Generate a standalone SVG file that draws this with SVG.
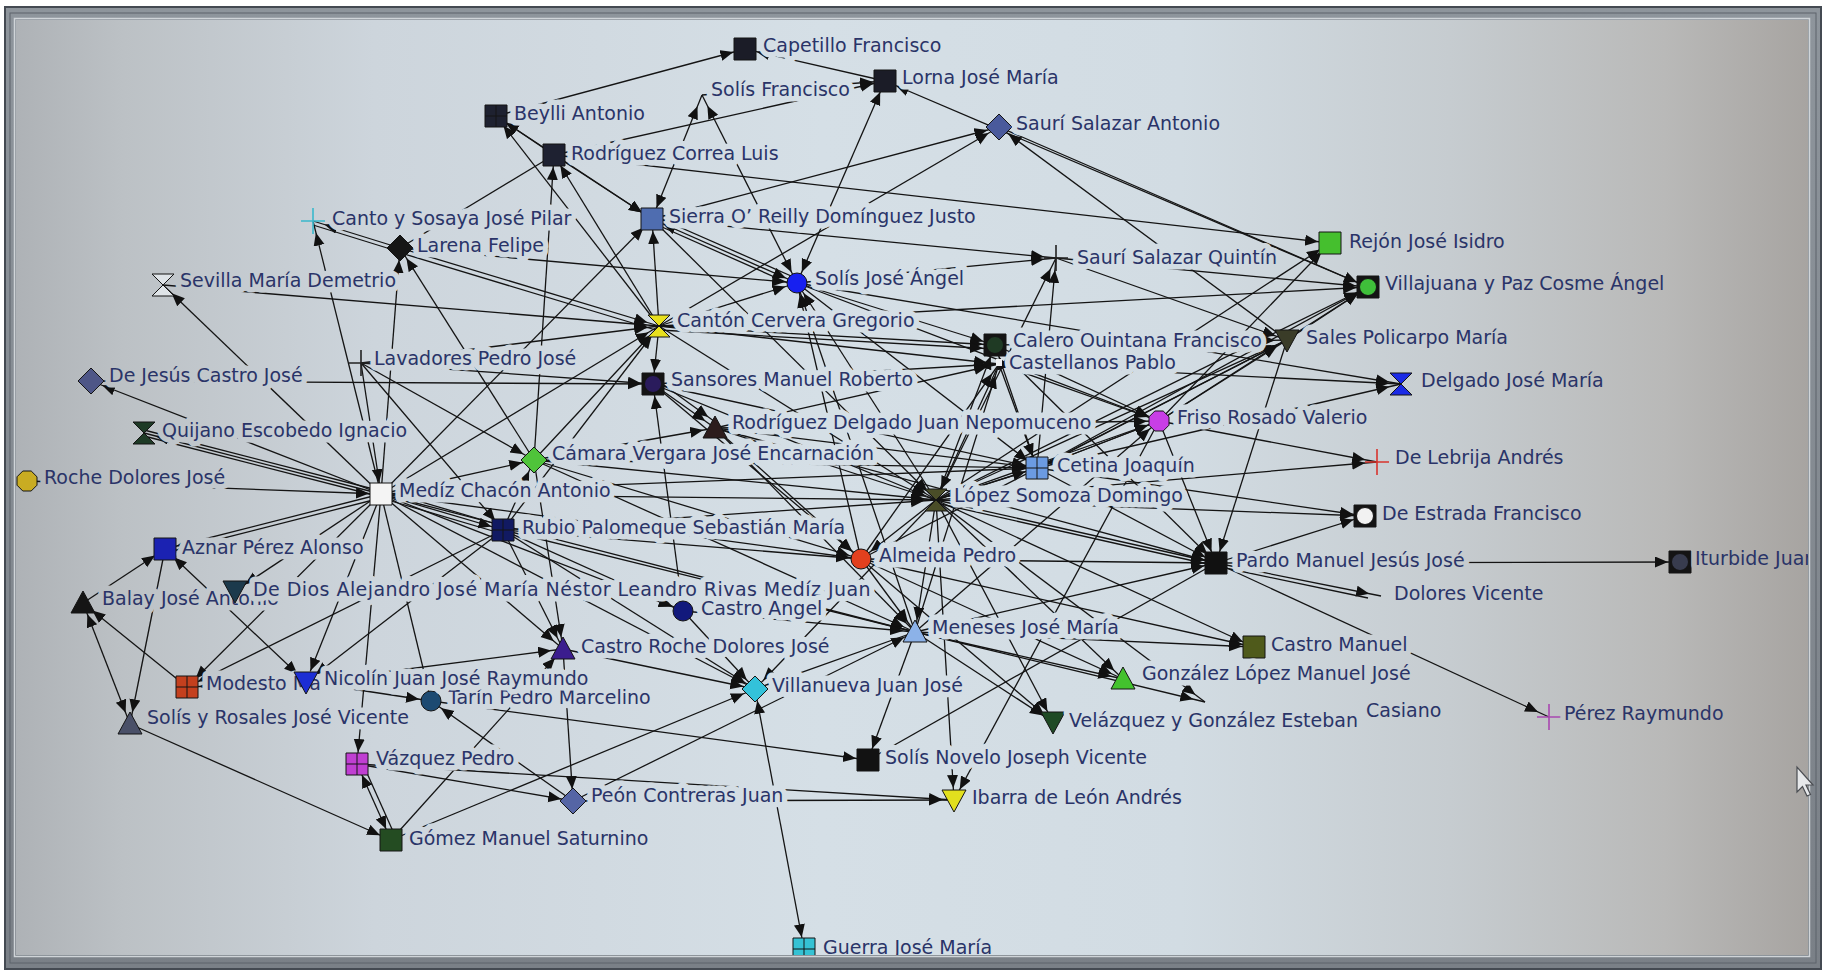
<svg xmlns="http://www.w3.org/2000/svg" width="1825" height="971" viewBox="0 0 1825 971">
<defs>
<linearGradient id="scr" gradientUnits="userSpaceOnUse" x1="16" y1="0" x2="1808" y2="0">
<stop offset="0" stop-color="#aeb2b6"/><stop offset="0.06" stop-color="#bcc1c5"/><stop offset="0.2" stop-color="#cdd5dc"/><stop offset="0.45" stop-color="#d5dfe6"/><stop offset="0.65" stop-color="#d2dce3"/><stop offset="0.8" stop-color="#c6ccd0"/><stop offset="0.92" stop-color="#b9b9b8"/><stop offset="1" stop-color="#a7a4a1"/>
</linearGradient>
<linearGradient id="frm" x1="0" y1="0" x2="0" y2="1">
<stop offset="0" stop-color="#8e959c"/><stop offset="1" stop-color="#7a8087"/>
</linearGradient>
<marker id="ah" markerUnits="userSpaceOnUse" markerWidth="32" markerHeight="12" refX="25" refY="5.5" orient="auto-start-reverse"><path d="M0,0L13,5.5L0,11Z" fill="#111"/></marker>
<path id="sq" d="M-11,-11H11V11H-11Z"/>
<g id="gr"><path d="M-11,-11H11V11H-11Z"/><path d="M0,-11V11M-11,0H11" fill="none"/></g>
<g id="cs"><path d="M-11,-11H11V11H-11Z" fill="#141414"/><circle r="8.5"/></g>
<path id="di" d="M0,-13L13,0L0,13L-13,0Z"/>
<path id="tu" d="M0,-12L12,10H-12Z"/>
<path id="td" d="M-12,-10H12L0,12Z"/>
<path id="hg" d="M-11,-11H11L-11,11H11Z"/>
<circle id="ci" r="10"/>
<path id="oc" d="M-4.2,-10H4.2L10,-4.2V4.2L4.2,10H-4.2L-10,4.2V-4.2Z"/>
<path id="pl" d="M-12,0H12M0,-13V13"/>
</defs>
<style>
.e,.m,.n{stroke:#141414;stroke-width:1.3;fill:none}
.e{marker-end:url(#ah)}
.m{marker-start:url(#ah);marker-end:url(#ah)}
.nd text{font-family:"DejaVu Sans","Liberation Sans",sans-serif;font-size:19px;fill:#2a3468;stroke:url(#scr);stroke-width:11;stroke-linejoin:round;paint-order:stroke}
.nd use{stroke:#141414;stroke-width:1}
.nd use.pl{fill:none;stroke-width:1.6}
</style>
<rect width="1825" height="971" fill="#ffffff"/>
<rect x="16" y="20" width="1792" height="935" fill="url(#scr)"/>
<g id="connectors">
<line class="e" x1="496" y1="116" x2="745" y2="49"/>
<line class="e" x1="554" y1="155" x2="496" y2="116"/>
<line class="e" x1="659" y1="326" x2="496" y2="116"/>
<line class="e" x1="554" y1="155" x2="885" y2="81"/>
<line class="e" x1="702" y1="95" x2="885" y2="81"/>
<line class="e" x1="885" y1="81" x2="745" y2="49"/>
<line class="m" x1="797" y1="283" x2="885" y2="81"/>
<line class="e" x1="1368" y1="287" x2="885" y2="81"/>
<line class="e" x1="652" y1="219" x2="999" y2="127"/>
<line class="e" x1="659" y1="326" x2="999" y2="127"/>
<line class="e" x1="1287" y1="340" x2="999" y2="127"/>
<line class="e" x1="999" y1="127" x2="1368" y2="287"/>
<line class="m" x1="652" y1="219" x2="702" y2="95"/>
<line class="m" x1="797" y1="283" x2="702" y2="95"/>
<line class="e" x1="554" y1="155" x2="652" y2="219"/>
<line class="e" x1="534" y1="460" x2="554" y2="155"/>
<line class="e" x1="659" y1="326" x2="554" y2="155"/>
<line class="e" x1="554" y1="155" x2="1330" y2="243"/>
<line class="e" x1="496" y1="116" x2="652" y2="219"/>
<line class="e" x1="381" y1="494" x2="652" y2="219"/>
<line class="e" x1="659" y1="326" x2="652" y2="219"/>
<line class="e" x1="659" y1="326" x2="653" y2="384"/>
<line class="m" x1="652" y1="219" x2="797" y2="283"/>
<line class="n" x1="653" y1="223" x2="797" y2="287"/>
<line class="n" x1="652" y1="215" x2="798" y2="279"/>
<line class="e" x1="652" y1="219" x2="1056" y2="258"/>
<line class="e" x1="797" y1="283" x2="1056" y2="258"/>
<line class="e" x1="400" y1="248" x2="797" y2="283"/>
<line class="e" x1="659" y1="326" x2="797" y2="283"/>
<line class="e" x1="861" y1="559" x2="797" y2="283"/>
<line class="e" x1="915" y1="632" x2="797" y2="283"/>
<line class="e" x1="936" y1="500" x2="797" y2="283"/>
<line class="e" x1="797" y1="283" x2="995" y2="345"/>
<line class="e" x1="797" y1="283" x2="1401" y2="384"/>
<line class="e" x1="797" y1="283" x2="1037" y2="468"/>
<line class="e" x1="797" y1="283" x2="1159" y2="421"/>
<line class="e" x1="936" y1="500" x2="1056" y2="258"/>
<line class="e" x1="1037" y1="468" x2="1056" y2="258"/>
<line class="e" x1="1056" y1="258" x2="1368" y2="287"/>
<line class="e" x1="1056" y1="258" x2="1287" y2="340"/>
<line class="e" x1="936" y1="500" x2="1330" y2="243"/>
<line class="e" x1="1159" y1="421" x2="1330" y2="243"/>
<line class="e" x1="659" y1="326" x2="1368" y2="287"/>
<line class="e" x1="1287" y1="340" x2="1368" y2="287"/>
<line class="e" x1="1037" y1="468" x2="1368" y2="287"/>
<line class="e" x1="936" y1="500" x2="1368" y2="287"/>
<line class="e" x1="1159" y1="421" x2="1368" y2="287"/>
<line class="e" x1="1287" y1="340" x2="1216" y2="563"/>
<line class="e" x1="999" y1="364" x2="1401" y2="384"/>
<line class="e" x1="1037" y1="468" x2="1401" y2="384"/>
<line class="e" x1="1159" y1="421" x2="1377" y2="462"/>
<line class="e" x1="936" y1="500" x2="1377" y2="462"/>
<line class="e" x1="1037" y1="468" x2="1365" y2="516"/>
<line class="e" x1="936" y1="500" x2="1365" y2="516"/>
<line class="e" x1="1216" y1="563" x2="1365" y2="516"/>
<line class="e" x1="1216" y1="563" x2="1680" y2="562"/>
<line class="e" x1="1216" y1="563" x2="1381" y2="596"/>
<line class="n" x1="1216" y1="566" x2="1368" y2="598"/>
<line class="e" x1="1216" y1="563" x2="1549" y2="717"/>
<line class="e" x1="936" y1="500" x2="1216" y2="563"/>
<line class="n" x1="936" y1="503" x2="1216" y2="566"/>
<line class="e" x1="1037" y1="468" x2="1216" y2="563"/>
<line class="e" x1="861" y1="559" x2="1216" y2="563"/>
<line class="e" x1="915" y1="632" x2="1216" y2="563"/>
<line class="e" x1="1159" y1="421" x2="1216" y2="563"/>
<line class="e" x1="995" y1="345" x2="1216" y2="563"/>
<line class="e" x1="715" y1="428" x2="1216" y2="563"/>
<line class="e" x1="915" y1="632" x2="1254" y2="647"/>
<line class="e" x1="861" y1="559" x2="1254" y2="647"/>
<line class="e" x1="936" y1="500" x2="1254" y2="647"/>
<line class="e" x1="915" y1="632" x2="1123" y2="679"/>
<line class="e" x1="861" y1="559" x2="1123" y2="679"/>
<line class="e" x1="936" y1="500" x2="1123" y2="679"/>
<line class="e" x1="861" y1="559" x2="1053" y2="722"/>
<line class="e" x1="915" y1="632" x2="1053" y2="722"/>
<line class="e" x1="936" y1="500" x2="1053" y2="722"/>
<line class="e" x1="915" y1="632" x2="1205" y2="702"/>
<line class="e" x1="936" y1="500" x2="1205" y2="702"/>
<line class="e" x1="400" y1="248" x2="313" y2="221"/>
<line class="n" x1="400" y1="252" x2="313" y2="225"/>
<line class="e" x1="381" y1="494" x2="313" y2="221"/>
<line class="e" x1="381" y1="494" x2="400" y2="248"/>
<line class="e" x1="534" y1="460" x2="400" y2="248"/>
<line class="e" x1="400" y1="248" x2="659" y2="326"/>
<line class="e" x1="401" y1="253" x2="659" y2="331"/>
<line class="n" x1="400" y1="248" x2="554" y2="155"/>
<line class="e" x1="381" y1="494" x2="163" y2="285"/>
<line class="e" x1="163" y1="285" x2="659" y2="326"/>
<line class="e" x1="361" y1="363" x2="659" y2="326"/>
<line class="e" x1="534" y1="460" x2="659" y2="326"/>
<line class="e" x1="381" y1="494" x2="659" y2="326"/>
<line class="e" x1="503" y1="530" x2="659" y2="326"/>
<line class="e" x1="659" y1="326" x2="995" y2="345"/>
<line class="e" x1="659" y1="330" x2="995" y2="349"/>
<line class="e" x1="659" y1="326" x2="999" y2="364"/>
<line class="e" x1="653" y1="384" x2="999" y2="364"/>
<line class="e" x1="861" y1="559" x2="999" y2="364"/>
<line class="e" x1="936" y1="500" x2="995" y2="345"/>
<line class="e" x1="915" y1="632" x2="999" y2="364"/>
<line class="e" x1="715" y1="428" x2="999" y2="364"/>
<line class="e" x1="1037" y1="468" x2="995" y2="345"/>
<line class="e" x1="995" y1="345" x2="1287" y2="340"/>
<line class="e" x1="361" y1="363" x2="653" y2="384"/>
<line class="e" x1="91" y1="381" x2="653" y2="384"/>
<line class="e" x1="653" y1="384" x2="715" y2="428"/>
<line class="e" x1="657" y1="380" x2="718" y2="424"/>
<line class="e" x1="683" y1="611" x2="653" y2="384"/>
<line class="e" x1="715" y1="428" x2="1159" y2="421"/>
<line class="e" x1="381" y1="494" x2="144" y2="433"/>
<line class="n" x1="381" y1="497" x2="144" y2="436"/>
<line class="n" x1="381" y1="491" x2="144" y2="430"/>
<line class="e" x1="27" y1="481" x2="381" y2="494"/>
<line class="e" x1="381" y1="494" x2="91" y2="381"/>
<line class="e" x1="381" y1="494" x2="165" y2="549"/>
<line class="e" x1="381" y1="498" x2="165" y2="553"/>
<line class="e" x1="381" y1="494" x2="235" y2="591"/>
<line class="e" x1="381" y1="494" x2="187" y2="687"/>
<line class="e" x1="381" y1="494" x2="306" y2="682"/>
<line class="e" x1="381" y1="494" x2="357" y2="764"/>
<line class="e" x1="381" y1="494" x2="431" y2="701"/>
<line class="e" x1="381" y1="494" x2="503" y2="530"/>
<line class="n" x1="381" y1="498" x2="503" y2="534"/>
<line class="n" x1="381" y1="490" x2="503" y2="526"/>
<line class="e" x1="381" y1="494" x2="534" y2="460"/>
<line class="e" x1="381" y1="494" x2="563" y2="649"/>
<line class="e" x1="381" y1="494" x2="755" y2="689"/>
<line class="e" x1="381" y1="494" x2="936" y2="500"/>
<line class="e" x1="381" y1="494" x2="861" y2="559"/>
<line class="e" x1="381" y1="494" x2="1037" y2="468"/>
<line class="e" x1="381" y1="494" x2="683" y2="611"/>
<line class="e" x1="381" y1="494" x2="915" y2="632"/>
<line class="e" x1="361" y1="363" x2="534" y2="460"/>
<line class="e" x1="361" y1="363" x2="381" y2="494"/>
<line class="e" x1="361" y1="363" x2="503" y2="530"/>
<line class="e" x1="503" y1="530" x2="534" y2="460"/>
<line class="e" x1="534" y1="460" x2="715" y2="428"/>
<line class="e" x1="534" y1="460" x2="936" y2="500"/>
<line class="e" x1="534" y1="460" x2="1037" y2="468"/>
<line class="e" x1="503" y1="530" x2="563" y2="649"/>
<line class="e" x1="503" y1="530" x2="683" y2="611"/>
<line class="e" x1="503" y1="530" x2="755" y2="689"/>
<line class="e" x1="503" y1="530" x2="915" y2="632"/>
<line class="e" x1="503" y1="530" x2="936" y2="500"/>
<line class="e" x1="503" y1="530" x2="861" y2="559"/>
<line class="e" x1="503" y1="530" x2="306" y2="682"/>
<line class="e" x1="503" y1="530" x2="187" y2="687"/>
<line class="e" x1="83" y1="603" x2="165" y2="549"/>
<line class="e" x1="165" y1="549" x2="130" y2="724"/>
<line class="m" x1="83" y1="603" x2="130" y2="724"/>
<line class="e" x1="187" y1="687" x2="83" y2="603"/>
<line class="m" x1="165" y1="549" x2="306" y2="682"/>
<line class="e" x1="306" y1="682" x2="187" y2="687"/>
<line class="e" x1="130" y1="724" x2="391" y2="840"/>
<line class="m" x1="391" y1="840" x2="357" y2="764"/>
<line class="n" x1="396" y1="838" x2="362" y2="762"/>
<line class="e" x1="391" y1="840" x2="563" y2="649"/>
<line class="e" x1="391" y1="840" x2="755" y2="689"/>
<line class="e" x1="357" y1="764" x2="573" y2="801"/>
<line class="e" x1="357" y1="764" x2="954" y2="800"/>
<line class="e" x1="573" y1="801" x2="954" y2="800"/>
<line class="e" x1="573" y1="801" x2="431" y2="701"/>
<line class="e" x1="431" y1="701" x2="868" y2="760"/>
<line class="e" x1="306" y1="682" x2="431" y2="701"/>
<line class="e" x1="563" y1="649" x2="573" y2="801"/>
<line class="e" x1="563" y1="649" x2="755" y2="689"/>
<line class="e" x1="683" y1="611" x2="755" y2="689"/>
<line class="m" x1="755" y1="689" x2="804" y2="949"/>
<line class="e" x1="573" y1="801" x2="915" y2="632"/>
<line class="e" x1="915" y1="632" x2="868" y2="760"/>
<line class="n" x1="868" y1="760" x2="1216" y2="563"/>
<line class="e" x1="936" y1="500" x2="954" y2="800"/>
<line class="e" x1="1159" y1="421" x2="954" y2="800"/>
<line class="e" x1="683" y1="611" x2="915" y2="632"/>
<line class="e" x1="936" y1="500" x2="861" y2="559"/>
<line class="e" x1="534" y1="460" x2="861" y2="559"/>
<line class="e" x1="715" y1="428" x2="861" y2="559"/>
<line class="e" x1="653" y1="384" x2="861" y2="559"/>
<line class="e" x1="659" y1="326" x2="936" y2="500"/>
<line class="e" x1="653" y1="384" x2="936" y2="500"/>
<line class="e" x1="715" y1="428" x2="936" y2="500"/>
<line class="e" x1="999" y1="364" x2="936" y2="500"/>
<line class="e" x1="1037" y1="468" x2="936" y2="500"/>
<line class="e" x1="652" y1="219" x2="936" y2="500"/>
<line class="e" x1="936" y1="500" x2="915" y2="632"/>
<line class="e" x1="861" y1="559" x2="915" y2="632"/>
<line class="e" x1="534" y1="460" x2="915" y2="632"/>
<line class="e" x1="715" y1="428" x2="1037" y2="468"/>
<line class="e" x1="653" y1="384" x2="1037" y2="468"/>
<line class="e" x1="936" y1="500" x2="1037" y2="468"/>
<line class="e" x1="1159" y1="421" x2="1037" y2="468"/>
<line class="e" x1="999" y1="364" x2="1037" y2="468"/>
<line class="e" x1="995" y1="345" x2="1159" y2="421"/>
<line class="e" x1="999" y1="364" x2="1159" y2="421"/>
<line class="e" x1="1037" y1="468" x2="1159" y2="421"/>
<line class="e" x1="936" y1="500" x2="1159" y2="421"/>
<line class="e" x1="915" y1="632" x2="1159" y2="421"/>
<line class="e" x1="1037" y1="468" x2="1287" y2="340"/>
<line class="e" x1="936" y1="500" x2="1287" y2="340"/>
<line class="e" x1="1159" y1="421" x2="1287" y2="340"/>
<line class="e" x1="861" y1="559" x2="1287" y2="340"/>
<line class="e" x1="915" y1="632" x2="755" y2="689"/>
<line class="e" x1="306" y1="682" x2="563" y2="649"/>
<line class="e" x1="534" y1="460" x2="563" y2="649"/>
<line class="e" x1="936" y1="500" x2="755" y2="689"/>
<line class="e" x1="715" y1="428" x2="915" y2="632"/>
</g>
<g id="n-capetillo" class="nd"><use href="#sq" x="745" y="49" fill="#1b1c27"/><text x="763" y="52">Capetillo Francisco</text></g>
<g id="n-lorna" class="nd"><use href="#sq" x="885" y="81" fill="#1b1c27"/><text x="902" y="84">Lorna José María</text></g>
<g id="n-solis-francisco" class="nd"><text x="711" y="96">Solís Francisco</text></g>
<g id="n-beylli" class="nd"><use href="#gr" x="496" y="116" fill="#1e2130"/><text x="514" y="120">Beylli Antonio</text></g>
<g id="n-sauri-antonio" class="nd"><use href="#di" x="999" y="127" fill="#4a5a9c"/><text x="1016" y="130">Saurí Salazar Antonio</text></g>
<g id="n-rodriguez-correa" class="nd"><use href="#sq" x="554" y="155" fill="#1e2131"/><text x="571" y="160">Rodríguez Correa Luis</text></g>
<g id="n-sierra" class="nd"><use href="#sq" x="652" y="219" fill="#4f6db0"/><text x="669" y="223">Sierra O’ Reilly Domínguez Justo</text></g>
<g id="n-canto" class="nd"><use class="pl" href="#pl" x="313" y="221" style="stroke:#3ab8cc"/><text x="332" y="225">Canto y Sosaya José Pilar</text></g>
<g id="n-larena" class="nd"><use href="#di" x="400" y="248" fill="#161616"/><text x="417" y="252">Larena Felipe</text></g>
<g id="n-solis-jose-angel" class="nd"><use href="#ci" x="797" y="283" fill="#1720f0"/><text x="815" y="285">Solís José Ángel</text></g>
<g id="n-sauri-quintin" class="nd"><use class="pl" href="#pl" x="1056" y="258" style="stroke:#222"/><text x="1077" y="264">Saurí Salazar Quintín</text></g>
<g id="n-rejon" class="nd"><use href="#sq" x="1330" y="243" fill="#45bf2e"/><text x="1349" y="248">Rejón José Isidro</text></g>
<g id="n-villajuana" class="nd"><use href="#cs" x="1368" y="287" fill="#3fbf3a"/><text x="1385" y="290">Villajuana y Paz Cosme Ángel</text></g>
<g id="n-sevilla" class="nd"><use href="#hg" x="163" y="285" fill="#dfe4e8"/><text x="180" y="287">Sevilla María Demetrio</text></g>
<g id="n-canton" class="nd"><use href="#hg" x="659" y="326" fill="#e8e01e"/><text x="677" y="327">Cantón Cervera Gregorio</text></g>
<g id="n-calero" class="nd"><use href="#cs" x="995" y="345" fill="#1f3a24"/><text x="1013" y="347">Calero Ouintana Francisco</text></g>
<g id="n-castellanos" class="nd"><rect x="996" y="359" width="6" height="7" fill="#eef0f2"/><text x="1009" y="369">Castellanos Pablo</text></g>
<g id="n-sales" class="nd"><use href="#td" x="1287" y="340" fill="#3a3c28"/><text x="1306" y="344">Sales Policarpo María</text></g>
<g id="n-delgado" class="nd"><use href="#hg" x="1401" y="384" fill="#1a2ae6"/><text x="1421" y="387">Delgado José María</text></g>
<g id="n-de-jesus" class="nd"><use href="#di" x="91" y="381" fill="#4e5687"/><text x="109" y="382">De Jesús Castro José</text></g>
<g id="n-lavadores" class="nd"><use class="pl" href="#pl" x="361" y="363" style="stroke:#222"/><text x="374" y="365">Lavadores Pedro José</text></g>
<g id="n-sansores" class="nd"><use href="#cs" x="653" y="384" fill="#2a1b5c"/><text x="671" y="386">Sansores Manuel Roberto</text></g>
<g id="n-rodriguez-delgado" class="nd"><use href="#tu" x="715" y="428" fill="#2c1c1c"/><text x="732" y="429">Rodríguez Delgado Juan Nepomuceno</text></g>
<g id="n-friso" class="nd"><use href="#oc" x="1159" y="421" fill="#c83ee6"/><text x="1177" y="424">Friso Rosado Valerio</text></g>
<g id="n-quijano" class="nd"><use href="#hg" x="144" y="433" fill="#1e3b26"/><text x="162" y="437">Quijano Escobedo Ignacio</text></g>
<g id="n-camara" class="nd"><use href="#di" x="534" y="460" fill="#4fc43a"/><text x="552" y="460">Cámara Vergara José Encarnación</text></g>
<g id="n-de-lebrija" class="nd"><use class="pl" href="#pl" x="1377" y="462" style="stroke:#d8342e"/><text x="1395" y="464">De Lebrija Andrés</text></g>
<g id="n-cetina" class="nd"><use href="#gr" x="1037" y="468" fill="#6b9be2"/><text x="1057" y="472">Cetina Joaquín</text></g>
<g id="n-roche" class="nd"><use href="#oc" x="27" y="481" fill="#c9ac22"/><text x="44" y="484">Roche Dolores José</text></g>
<g id="n-mediz" class="nd"><use href="#sq" x="381" y="494" fill="#f4f4f4"/><text x="399" y="497">Medíz Chacón Antonio</text></g>
<g id="n-lopez" class="nd"><use href="#hg" x="936" y="500" fill="#4a4d28"/><text x="954" y="502">López Somoza Domingo</text></g>
<g id="n-de-estrada" class="nd"><use href="#cs" x="1365" y="516" fill="#f2f2f2"/><text x="1382" y="520">De Estrada Francisco</text></g>
<g id="n-rubio" class="nd"><use href="#gr" x="503" y="530" fill="#111a62"/><text x="522" y="534">Rubio Palomeque Sebastián María</text></g>
<g id="n-aznar" class="nd"><use href="#sq" x="165" y="549" fill="#1b22b2"/><text x="182" y="554">Aznar Pérez Alonso</text></g>
<g id="n-almeida" class="nd"><use href="#ci" x="861" y="559" fill="#e2401e"/><text x="879" y="562">Almeida Pedro</text></g>
<g id="n-pardo" class="nd"><use href="#sq" x="1216" y="563" fill="#111111"/><text x="1236" y="567">Pardo Manuel Jesús José</text></g>
<g id="n-iturbide" class="nd"><use href="#cs" x="1680" y="562" fill="#383c4e"/><text x="1695" y="565">Iturbide Juan</text></g>
<g id="n-balay" class="nd"><use href="#tu" x="83" y="603" fill="#151515"/><text x="102" y="605">Balay José Antonio</text></g>
<g id="n-de-dios" class="nd"><use href="#td" x="235" y="591" fill="#1c3a4c"/><text x="253" y="596" style="letter-spacing:0.45px">De Dios Alejandro José María Néstor Leandro Rivas Medíz Juan</text></g>
<g id="n-dolores-vicente" class="nd"><text x="1394" y="600">Dolores Vicente</text></g>
<g id="n-castro-angel" class="nd"><use href="#ci" x="683" y="611" fill="#12197c"/><text x="701" y="615">Castro Angel</text></g>
<g id="n-meneses" class="nd"><use href="#tu" x="915" y="632" fill="#8cb2e8"/><text x="932" y="634">Meneses José María</text></g>
<g id="n-castro-roche" class="nd"><use href="#tu" x="563" y="649" fill="#3b1d8e"/><text x="581" y="653">Castro Roche Dolores José</text></g>
<g id="n-castro-manuel" class="nd"><use href="#sq" x="1254" y="647" fill="#4f5a1b"/><text x="1271" y="651">Castro Manuel</text></g>
<g id="n-modesto" class="nd"><use href="#gr" x="187" y="687" fill="#c4401e"/><text x="206" y="690">Modesto Ma</text></g>
<g id="n-tarin" class="nd"><use href="#ci" x="431" y="701" fill="#1c4a72"/><text x="448" y="704">Tarín Pedro Marcelino</text></g>
<g id="n-nicolin" class="nd"><use href="#td" x="306" y="682" fill="#1c2ed4"/><text x="324" y="685">Nicolín Juan José Raymundo</text></g>
<g id="n-villanueva" class="nd"><use href="#di" x="755" y="689" fill="#33c2da"/><text x="772" y="692">Villanueva Juan José</text></g>
<g id="n-gonzalez" class="nd"><use href="#tu" x="1123" y="679" fill="#43c22e"/><text x="1142" y="680">González López Manuel José</text></g>
<g id="n-solis-rosales" class="nd"><use href="#tu" x="130" y="724" fill="#4a5068"/><text x="147" y="724">Solís y Rosales José Vicente</text></g>
<g id="n-casiano" class="nd"><text x="1366" y="717">Casiano</text></g>
<g id="n-velazquez" class="nd"><use href="#td" x="1053" y="722" fill="#1e4a24"/><text x="1069" y="727">Velázquez y González Esteban</text></g>
<g id="n-perez-raymundo" class="nd"><use class="pl" href="#pl" x="1549" y="717" style="stroke:#a848b0"/><text x="1564" y="720">Pérez Raymundo</text></g>
<g id="n-vazquez" class="nd"><use href="#gr" x="357" y="764" fill="#c03fd2"/><text x="376" y="765">Vázquez Pedro</text></g>
<g id="n-solis-novelo" class="nd"><use href="#sq" x="868" y="760" fill="#121212"/><text x="885" y="764">Solís Novelo Joseph Vicente</text></g>
<g id="n-peon" class="nd"><use href="#di" x="573" y="801" fill="#5565a5"/><text x="591" y="802">Peón Contreras Juan</text></g>
<g id="n-ibarra" class="nd"><use href="#td" x="954" y="800" fill="#e2e01e"/><text x="972" y="804">Ibarra de León Andrés</text></g>
<g id="n-gomez" class="nd"><use href="#sq" x="391" y="840" fill="#244c22"/><text x="409" y="845">Gómez Manuel Saturnino</text></g>
<g id="n-guerra" class="nd"><use href="#gr" x="804" y="949" fill="#35c2d4"/><text x="823" y="954">Guerra José María</text></g>
<g id="frame">
<path fill-rule="evenodd" fill="url(#frm)" d="M5,7H1821V969H5Z M16,20V955H1808V20Z"/>
<rect x="5" y="7" width="1816" height="962" fill="none" stroke="#444a52" stroke-width="2"/>
<rect x="14.5" y="18.5" width="1795" height="938" fill="none" stroke="#cfd4d8" stroke-width="1.5"/>
<rect x="10" y="13" width="1806" height="950" fill="none" stroke="#5d636b" stroke-width="1"/>
</g>
<path d="M1797,767V792L1802.5,786.5L1807,796L1810.5,794.5L1806,785H1813Z" fill="#e6e8ea" stroke="#4a4d52" stroke-width="1.2"/>
</svg>
